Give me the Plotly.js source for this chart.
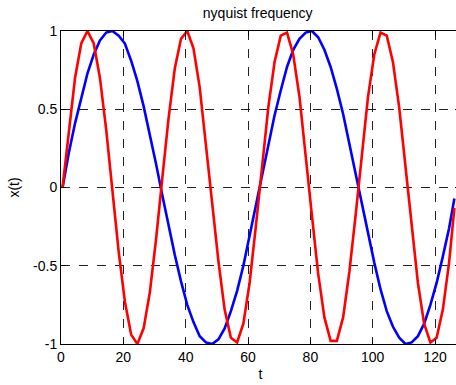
<!DOCTYPE html>
<html><head><meta charset="utf-8">
<script src="https://cdn.plot.ly/plotly-3.0.1.min.js"></script>
<style>html,body{margin:0;padding:0;overflow:hidden;background:#fff}#plot{width:470px;height:385px}</style>
</head><body><div id="plot"></div>
<script>
const t = [0.5,2.5,4.5,6.5,8.5,10.5,12.5,14.5,16.5,18.5,20.5,22.5,24.5,26.5,28.5,30.5,32.5,34.5,36.5,38.5,40.5,42.5,44.5,46.5,48.5,50.5,52.5,54.5,56.5,58.5,60.5,62.5,64.5,66.5,68.5,70.5,72.5,74.5,76.5,78.5,80.5,82.5,84.5,86.5,88.5,90.5,92.5,94.5,96.5,98.5,100.5,102.5,104.5,106.5,108.5,110.5,112.5,114.5,116.5,118.5,120.5,122.5,124.5,126.2];
const blueX = [0,0.22,0.41,0.57,0.73,0.85,0.94,0.99,1.0,0.97,0.92,0.81,0.68,0.52,0.34,0.15,-0.05,-0.25,-0.43,-0.6,-0.75,-0.86,-0.95,-0.99,-1.0,-0.97,-0.9,-0.79,-0.66,-0.5,-0.31,-0.12,0.08,0.27,0.46,0.62,0.77,0.88,0.95,0.99,1.0,0.96,0.88,0.77,0.63,0.47,0.28,0.09,-0.11,-0.3,-0.48,-0.65,-0.79,-0.89,-0.96,-1.0,-0.99,-0.95,-0.87,-0.75,-0.61,-0.44,-0.26,-0.07];
const redX = [0,0.37,0.7,0.92,1.0,0.92,0.7,0.37,-0.02,-0.41,-0.73,-0.94,-1.0,-0.9,-0.67,-0.33,0.06,0.44,0.76,0.95,1.0,0.89,0.64,0.29,-0.1,-0.47,-0.78,-0.96,-0.99,-0.87,-0.61,-0.25,0.14,0.51,0.8,0.97,0.99,0.85,0.58,0.22,-0.18,-0.55,-0.83,-0.98,-0.98,-0.83,-0.54,-0.18,0.22,0.58,0.85,0.99,0.97,0.8,0.51,0.14,-0.26,-0.61,-0.87,-0.99,-0.96,-0.78,-0.48,-0.13];
const xTicks = [0,20,40,60,80,100,120];
const yTicks = [-1,-0.5,0,0.5,1];
const yTickText = ['-1','-0.5','0','0.5','1'];

const font = {family:'Liberation Sans, Arial, sans-serif', size:14, color:'#000'};
const axisCommon = {
  showline:true, linecolor:'#000', linewidth:1, mirror:'ticks',
  ticks:'inside', ticklen:5, tickcolor:'#000',
  showgrid:true, gridcolor:'#222', gridwidth:1, griddash:'dash',
  zeroline:false, tickfont:font
};
Plotly.newPlot('plot', [
  {x:t, y:blueX, mode:'lines', line:{color:'#0000ff', width:2.6}, hoverinfo:'skip'},
  {x:t, y:redX, mode:'lines', line:{color:'#ff0000', width:2.6}, hoverinfo:'skip'}
], {
  width:470, height:385,
  margin:{l:61, r:10, t:31, b:41},
  paper_bgcolor:'#fff', plot_bgcolor:'#fff',
  showlegend:false,
  font:font,
  title:{text:'nyquist frequency', font:{family:font.family, size:14, color:'#000'}, xref:'container', x:257.7/470, xanchor:'center', yref:'container', y:1-13/385, yanchor:'middle'},
  xaxis:Object.assign({}, axisCommon, {range:[0,128], tickvals:xTicks, ticktext:xTicks.map(String), title:{text:'t', font:font, standoff:5}}),
  yaxis:Object.assign({}, axisCommon, {range:[-1,1], tickvals:yTicks, ticktext:yTickText, title:{text:'x(t)', font:font, standoff:10}})
}, {staticPlot:true, displayModeBar:false});
</script></body></html>
